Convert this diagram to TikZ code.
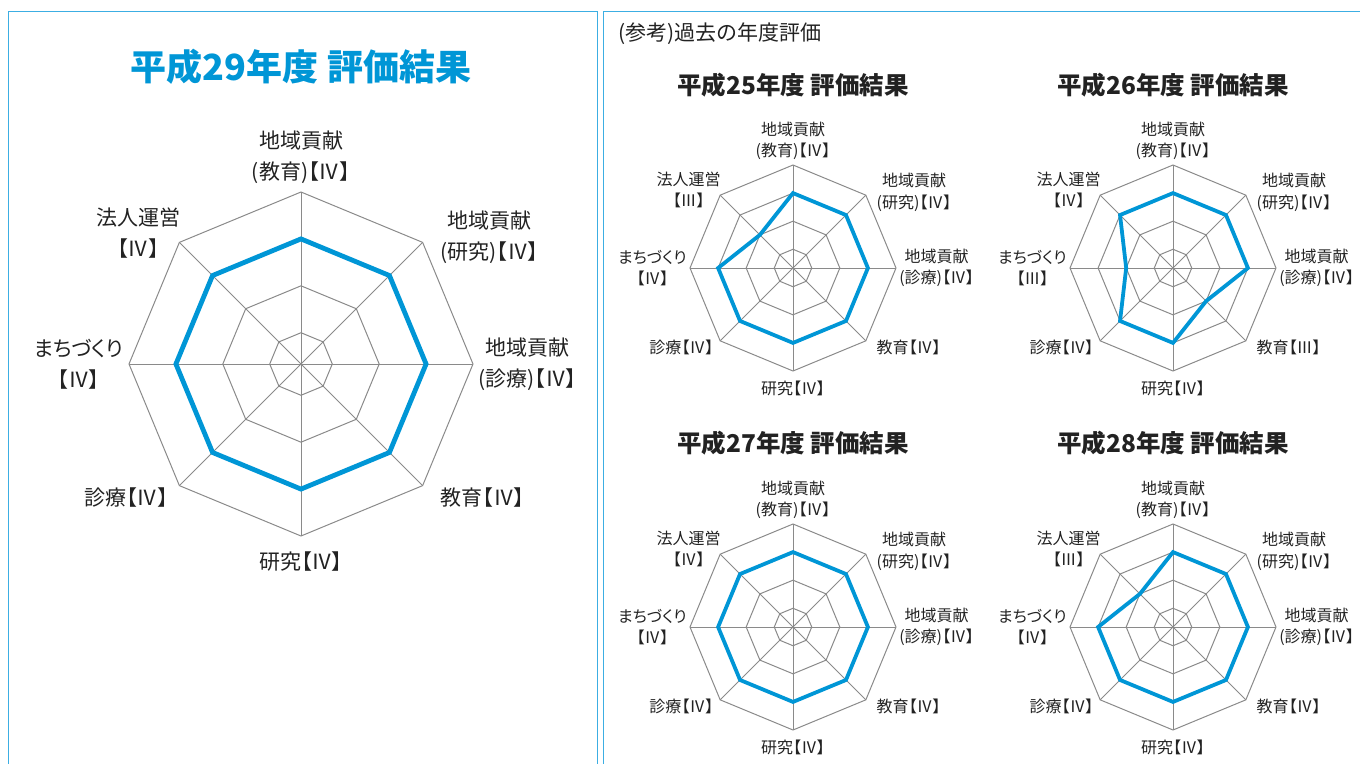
\documentclass[tikz,border=0pt]{standalone}
\usepackage{fontspec}
\setmainfont{Noto Sans CJK JP}
\newfontfamily\propfont{Noto Sans CJK JP}[RawFeature=+palt]

\definecolor{framecol}{HTML}{3CAEE3}
\definecolor{scorecol}{HTML}{0096D6}
\definecolor{gridcol}{HTML}{8A8A8A}
\definecolor{textcol}{HTML}{222222}

\newcommand{\grade}[1]{\ifcase#1\or Ⅰ\or Ⅱ\or Ⅲ\or Ⅳ\or Ⅴ\fi}

\tikzset{
  panel/.style={draw=framecol, line width=1.8},
  gridline/.style={draw=gridcol, line width=1},
  scoreline/.style={draw=scorecol, line width=\lw, line join=miter},
  axislabel/.style={inner sep=0pt, align=center, text=textcol, font=\labelsize},
  bigradar/.code={\def\rr{172}\def\lw{4.8}\def\labelsize{\propfont\fontsize{21}{31}\selectfont}},
  smallradar/.code={\def\rr{103}\def\lw{3.8}\def\labelsize{\propfont\fontsize{16}{21.5}\selectfont}},
  bigtitle/.style={inner sep=0pt, text=scorecol, font=\bfseries\fontsize{36}{40}\selectfont},
  smalltitle/.style={inner sep=0pt, text=textcol, font=\bfseries\fontsize{24.5}{28}\selectfont},
  notetext/.style={inner sep=0pt, anchor=west, text=textcol, font=\fontsize{21}{24}\selectfont},
}

% one radar chart: name, then the eight grades clockwise from the top
\newcommand{\radar}[9]{%
  \foreach \lv in {2,5,8,11}
    \draw[gridline] (-90:{\lv*\rr/11}) -- (-45:{\lv*\rr/11}) -- (0:{\lv*\rr/11})
      -- (45:{\lv*\rr/11}) -- (90:{\lv*\rr/11}) -- (135:{\lv*\rr/11})
      -- (180:{\lv*\rr/11}) -- (225:{\lv*\rr/11}) -- cycle;
  \foreach \a in {-90,-45,...,225}
    \draw[gridline] (0,0) -- (\a:\rr);
  \foreach \v [count=\k from 0] in {#2,#3,#4,#5,#6,#7,#8,#9}
    \coordinate (#1-p\k) at ({-90+45*\k}:{(3*\v-4)*\rr/11});
  \draw[scoreline] (#1-p0) -- (#1-p1) -- (#1-p2) -- (#1-p3)
    -- (#1-p4) -- (#1-p5) -- (#1-p6) -- (#1-p7) -- cycle;
  \node[axislabel, anchor=south] (#1-l0) at (0,{-1.05*\rr}) {地域貢献\\(教育)【\grade{#2}】};
  \node[axislabel, anchor=west] (#1-l1) at ({0.81*\rr},{-0.735*\rr}) {地域貢献\\(研究)【\grade{#3}】};
  \node[axislabel, anchor=west] (#1-l2) at ({1.03*\rr},0) {地域貢献\\(診療)【\grade{#4}】};
  \node[axislabel, anchor=west] (#1-l3) at ({0.81*\rr},{0.775*\rr}) {教育【\grade{#5}】};
  \node[axislabel, anchor=north] (#1-l4) at (0,{1.09*\rr}) {研究【\grade{#6}】};
  \node[axislabel, anchor=east] (#1-l5) at ({-0.77*\rr},{0.775*\rr}) {診療【\grade{#7}】};
  \node[axislabel, anchor=east] (#1-l6) at ({-1.03*\rr},0) {まちづくり\\【\grade{#8}】};
  \node[axislabel, anchor=east] (#1-l7) at ({-0.70*\rr},{-0.76*\rr}) {法人運営\\【\grade{#9}】};
}

\begin{document}
\begin{tikzpicture}[x=1pt, y=-1pt]
\useasboundingbox (0,0) rectangle (1360,763);
\clip (0,0) rectangle (1360,763);

% panels
\draw[panel] (8.5,11.5) rectangle (597.5,790);
\draw[panel] (603.5,11.5) rectangle (1380,790);

% this year
\node[bigtitle] (h29-title) at (301,67) {平成29年度 評価結果};
\begin{scope}[shift={(301,364)}, bigradar]
  \radar{h29}{4}{4}{4}{4}{4}{4}{4}{4}
\end{scope}

% past years
\node[notetext] (pastnote) at (618,34) {(参考)過去の年度評価};

\node[smalltitle] (h25-title) at (793,85) {平成25年度 評価結果};
\begin{scope}[shift={(793,268)}, smallradar]
  \radar{h25}{4}{4}{4}{4}{4}{4}{4}{3}
\end{scope}

\node[smalltitle] (h26-title) at (1173,85) {平成26年度 評価結果};
\begin{scope}[shift={(1173,268)}, smallradar]
  \radar{h26}{4}{4}{4}{3}{4}{4}{3}{4}
\end{scope}

\node[smalltitle] (h27-title) at (793,443) {平成27年度 評価結果};
\begin{scope}[shift={(793,627)}, smallradar]
  \radar{h27}{4}{4}{4}{4}{4}{4}{4}{4}
\end{scope}

\node[smalltitle] (h28-title) at (1173,443) {平成28年度 評価結果};
\begin{scope}[shift={(1173,627)}, smallradar]
  \radar{h28}{4}{4}{4}{4}{4}{4}{4}{3}
\end{scope}
\end{tikzpicture}
\end{document}
